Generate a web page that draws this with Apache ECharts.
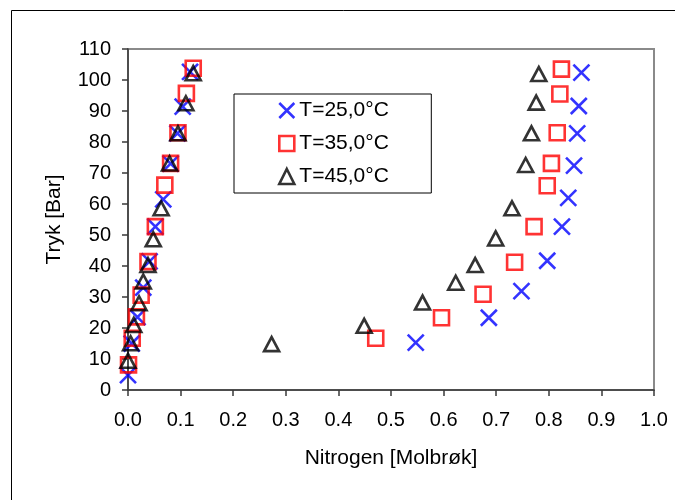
<!DOCTYPE html>
<html>
<head>
<meta charset="utf-8">
<script src="https://cdn.jsdelivr.net/npm/echarts@6/dist/echarts.min.js"></script>
<style>
  html, body { margin: 0; padding: 0; background: #fff; }
  #chart { width: 675px; height: 500px; }
</style>
</head>
<body>
<div id="chart"></div>
<script>
// Vapour–liquid equilibrium: pressure vs. nitrogen mole fraction at three temperatures
const seriesNames = ['T=25,0°C', 'T=35,0°C', 'T=45,0°C'];

// T = 25,0 °C (liquid branch, then vapour branch)
const x25 = [0.000, 0.007, 0.018, 0.029, 0.041, 0.052, 0.067, 0.081, 0.094, 0.104, 0.118,
             0.547, 0.686, 0.748, 0.797, 0.825, 0.837, 0.848, 0.854, 0.857, 0.862];
const p25 = [4.8, 15.0, 23.5, 33.0, 41.5, 52.7, 61.5, 73.0, 82.8, 91.4, 102.6,
             15.3, 23.3, 31.9, 41.7, 52.7, 62.0, 72.4, 82.8, 91.6, 102.4];

// T = 35,0 °C
const x35 = [0.001, 0.008, 0.016, 0.025, 0.038, 0.052, 0.070, 0.081, 0.095, 0.111, 0.124,
             0.471, 0.596, 0.675, 0.735, 0.772, 0.797, 0.805, 0.816, 0.821, 0.824];
const p35 = [8.1, 16.7, 23.6, 30.6, 41.4, 52.7, 66.1, 73.1, 83.0, 95.7, 103.8,
             16.7, 23.3, 30.9, 41.2, 52.7, 65.9, 73.1, 83.0, 95.5, 103.5];

// T = 45,0 °C
const x45 = [0.000, 0.005, 0.011, 0.021, 0.029, 0.038, 0.048, 0.063, 0.079, 0.095, 0.110, 0.124,
             0.273, 0.449, 0.560, 0.623, 0.660, 0.699, 0.730, 0.756, 0.767, 0.776, 0.781];
const p45 = [9.4, 15.1, 21.0, 28.0, 35.0, 40.3, 48.6, 58.6, 73.1, 82.8, 92.5, 102.2,
             14.8, 20.7, 28.2, 34.6, 40.3, 48.9, 58.6, 72.6, 82.8, 92.7, 101.9];

const xTicks = [0, 0.1, 0.2, 0.3, 0.4, 0.5, 0.6, 0.7, 0.8, 0.9, 1.0];
const yTicks = [0, 10, 20, 30, 40, 50, 60, 70, 80, 90, 100, 110];

const FONT = '"Liberation Sans", Arial, sans-serif';
const pairs = (xs, ys) => xs.map((x, i) => [x, ys[i]]);

const chart = echarts.init(document.getElementById('chart'), null, { renderer: 'canvas' });

chart.setOption({
  animation: false,
  backgroundColor: '#fff',
  textStyle: { fontFamily: FONT },
  graphic: [{
    type: 'rect',
    silent: true,
    shape: { x: 11.5, y: 10.5, width: 720, height: 620 },
    style: { fill: 'none', stroke: '#000', lineWidth: 1 }
  }],
  grid: {
    left: 128, right: 21, top: 49, bottom: 110,
    show: true, borderColor: '#8a8a8a', borderWidth: 2, backgroundColor: 'transparent'
  },
  legend: {
    orient: 'vertical',
    left: 234, top: 94,
    padding: [6, 41, 6, 44],
    itemGap: 12,
    itemWidth: 15, itemHeight: 15,
    borderColor: '#000', borderWidth: 1,
    backgroundColor: '#fff',
    selectedMode: false,
    itemStyle: { borderWidth: 2.6 },
    textStyle: { fontSize: 21, lineHeight: 21, width: 91, color: '#000', fontFamily: FONT },
    data: seriesNames
  },
  xAxis: {
    type: 'value',
    min: xTicks[0], max: xTicks[xTicks.length - 1], interval: 0.1,
    splitLine: { show: false },
    axisLine: { onZero: false, lineStyle: { color: '#3a3a3a', width: 1.5 } },
    axisTick: { show: true, length: 6, lineStyle: { color: '#3a3a3a', width: 1.5 } },
    axisLabel: { fontSize: 20, color: '#000', margin: 20, fontFamily: FONT,
                 formatter: v => v.toFixed(1) },
    name: 'Nitrogen [Molbrøk]',
    nameLocation: 'middle',
    nameGap: 58,
    nameTextStyle: { fontSize: 21, color: '#000', fontFamily: FONT }
  },
  yAxis: {
    type: 'value',
    min: yTicks[0], max: yTicks[yTicks.length - 1], interval: 10,
    splitLine: { show: false },
    axisLine: { show: true, onZero: false, lineStyle: { color: '#3a3a3a', width: 1.5 } },
    axisTick: { show: true, length: 6, lineStyle: { color: '#3a3a3a', width: 1.5 } },
    axisLabel: { fontSize: 20, color: '#000', margin: 17, fontFamily: FONT },
    name: 'Tryk [Bar]',
    nameLocation: 'middle',
    nameRotate: 90,
    nameGap: 63,
    nameTextStyle: { fontSize: 21, color: '#000', fontFamily: FONT }
  },
  series: [
    {
      name: seriesNames[0],
      type: 'scatter',
      symbol: 'path://M0,0L16,16M16,0L0,16',
      symbolSize: 16,
      itemStyle: { color: 'transparent', borderColor: '#0000ff', borderWidth: 2.6 },
      emphasis: { disabled: true },
      data: pairs(x25, p25)
    },
    {
      name: seriesNames[1],
      type: 'scatter',
      symbol: 'rect',
      symbolSize: 15,
      itemStyle: { color: 'transparent', borderColor: '#ff0000', borderWidth: 2.6 },
      emphasis: { disabled: true },
      data: pairs(x35, p35)
    },
    {
      name: seriesNames[2],
      type: 'scatter',
      symbol: 'triangle',
      symbolSize: [15, 14],
      itemStyle: { color: 'transparent', borderColor: '#000000', borderWidth: 2.6 },
      emphasis: { disabled: true },
      data: pairs(x45, p45)
    }
  ]
});
</script>
</body>
</html>
